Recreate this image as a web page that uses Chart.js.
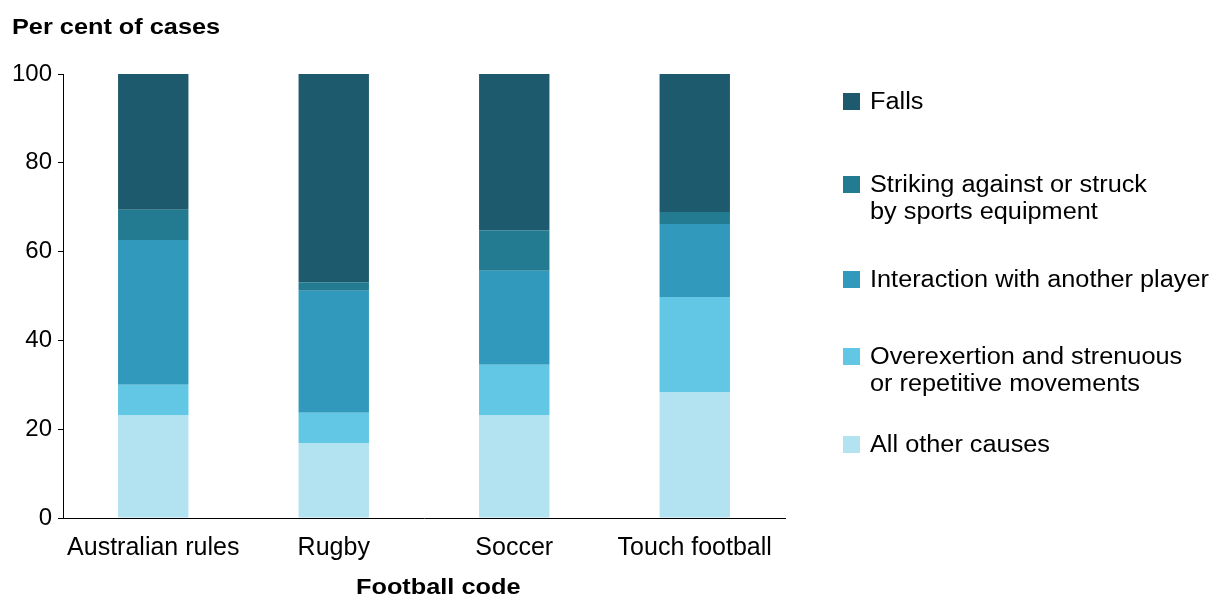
<!DOCTYPE html>
<html>
<head>
<meta charset="utf-8">
<script src="https://cdn.jsdelivr.net/npm/chart.js@4"></script>
<style>
  body { margin: 0; background: #fff; font-family: "Liberation Sans", Arial, sans-serif; color: #000; }
  #wrap { position: relative; width: 1216px; height: 597px; }
  canvas { position: absolute; left: 0; top: 0; }
  .txt { position: absolute; white-space: nowrap; transform-origin: left center; }
  .bold { font-weight: bold; font-size: 22px; transform: scaleX(1.15); }
  #legend { position: absolute; left: 843px; top: 0; }
  .item { position: absolute; left: 0; width: 380px; }
  .sw { position: absolute; left: 0; width: 17px; height: 17px; }
  .lab { position: absolute; left: 27px; font-size: 23px; line-height: 27px; transform: scaleX(1.1); transform-origin: left top; white-space: nowrap; }
</style>
</head>
<body>
<div id="wrap">
  <canvas id="InjuryChart" width="1216" height="597"></canvas>
  <div class="txt bold" style="left:12px; top:14px;">Per cent of cases</div>
  <div class="txt bold" style="left:356px; top:574px;">Football code</div>
  <div id="legend"></div>
</div>
<script>
// Football codes and share of cases (%) for each cause
const codes = ['Australian rules', 'Rugby', 'Soccer', 'Touch football'];
const allOther = [23.1, 16.9, 23.1, 28.4];
const overexertion = [6.9, 6.8, 11.4, 21.4];
const interaction = [32.6, 27.5, 21.2, 16.4];
const striking = [6.8, 1.9, 9.1, 2.7];
const falls = [30.6, 46.9, 35.2, 31.1];
const yTicks = [0, 20, 40, 60, 80, 100];

// stacked bottom to top
const series = [
  { label: ['All other causes'], data: allOther, color: '#b3e2f1' },
  { label: ['Overexertion and strenuous', 'or repetitive movements'], data: overexertion, color: '#62c7e5' },
  { label: ['Interaction with another player'], data: interaction, color: '#3199bb' },
  { label: ['Striking against or struck', 'by sports equipment'], data: striking, color: '#237b91' },
  { label: ['Falls'], data: falls, color: '#1d5a6e' }
];

const data = {
  labels: codes,
  datasets: series.map(s => ({
    label: s.label.join(' '),
    data: s.data,
    backgroundColor: s.color,
    borderWidth: 0,
    categoryPercentage: 1,
    barPercentage: 0.39
  }))
};

const config = {
  type: 'bar',
  data: data,
  options: {
    responsive: false,
    animation: false,
    layout: { padding: { top: 74, right: 431, left: 0, bottom: 0 } },
    plugins: {
      legend: { display: false },
      tooltip: { enabled: false }
    },
    scales: {
      x: {
        stacked: true,
        grid: { display: false },
        border: { color: '#000', width: 1 },
        ticks: {
          color: '#000',
          padding: 7,
          font: { family: 'Liberation Sans', size: 25 }
        },
        afterFit: function(scale) { scale.height = 79; }
      },
      y: {
        stacked: true,
        min: 0,
        max: 100,
        afterBuildTicks: function(scale) {
          scale.ticks = yTicks.map(v => ({ value: v }));
        },
        grid: {
          display: true,
          drawOnChartArea: false,
          drawTicks: true,
          tickLength: 5,
          color: '#000'
        },
        border: { color: '#000', width: 1 },
        ticks: {
          color: '#000',
          padding: 6,
          font: { family: 'Liberation Sans', size: 24 }
        },
        afterFit: function(scale) { scale.width = 63; }
      }
    }
  }
};

new Chart(document.getElementById('InjuryChart'), config);

// legend on the right, top entry first
const legendTops = [93, 176, 271, 348, 436];
const legend = document.getElementById('legend');
series.slice().reverse().forEach((s, i) => {
  const item = document.createElement('div');
  item.className = 'item';
  item.style.top = legendTops[i] + 'px';
  const sw = document.createElement('div');
  sw.className = 'sw';
  sw.style.background = s.color;
  const lab = document.createElement('div');
  lab.className = 'lab';
  lab.style.top = '-5px';
  lab.innerHTML = s.label.join('<br>');
  item.appendChild(sw);
  item.appendChild(lab);
  legend.appendChild(item);
});
</script>
</body>
</html>
